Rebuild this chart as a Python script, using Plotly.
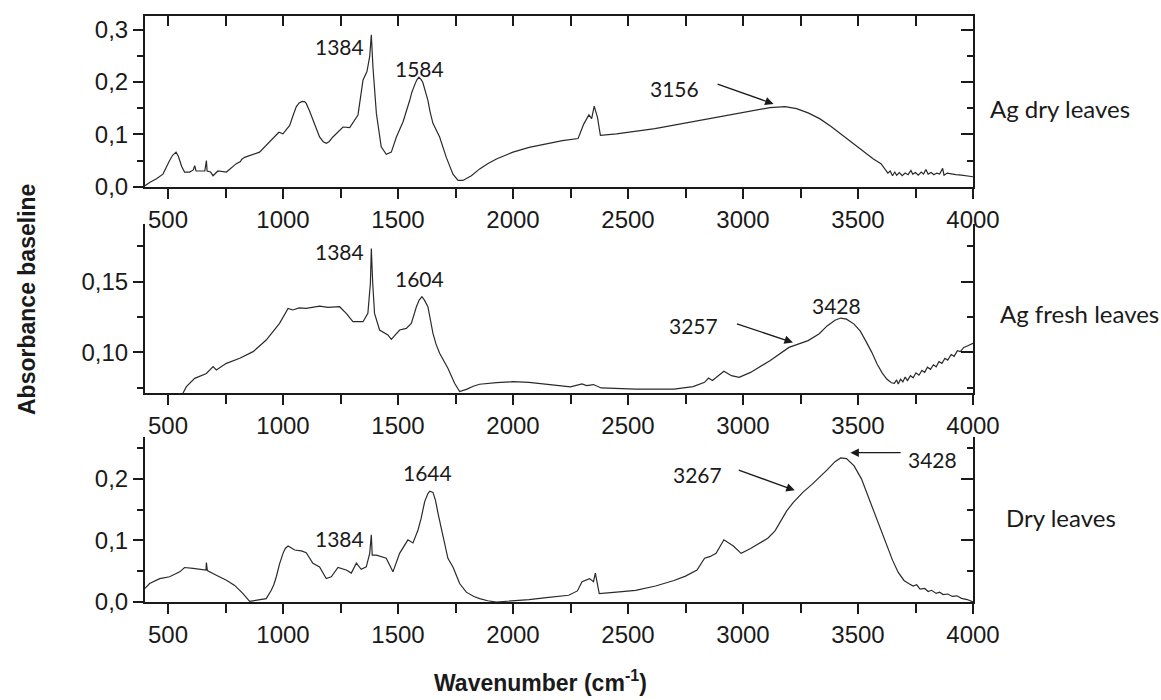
import plotly.graph_objects as go

# ---------------- data ----------------
wn_ag_dry = [400, 420, 450, 478, 507, 520, 535, 545, 551, 560, 572, 594, 610, 616, 622, 640, 660, 667, 670,
             685, 696, 717, 754, 797, 815, 820, 833, 898, 949, 982, 1000, 1029, 1043, 1058, 1070, 1084,
             1095, 1101, 1115, 1130, 1145, 1159, 1175, 1188, 1200, 1217, 1261, 1290, 1326, 1348, 1365,
             1377, 1384, 1391, 1406, 1427, 1449, 1471, 1493, 1522, 1551, 1560, 1572, 1582, 1591, 1600,
             1608, 1620, 1630, 1640, 1652, 1681, 1710, 1739, 1761, 1782, 1800, 1819, 1855, 1890, 1928,
             1965, 2000, 2070, 2145, 2215, 2283, 2308, 2330, 2342, 2353, 2367, 2380, 2450, 2617, 2783,
             2950, 3033, 3117, 3183, 3233, 3283, 3333, 3383, 3433, 3483, 3533, 3567, 3600, 3615, 3630,
             3640, 3650, 3660, 3668, 3680, 3692, 3705, 3718, 3730, 3738, 3750, 3762, 3775, 3785, 3795,
             3805, 3818, 3830, 3842, 3855, 3868, 3874, 3888, 3905, 3925, 3950, 3975, 4000]
abs_ag_dry = [0.002, 0.008, 0.015, 0.024, 0.05, 0.06, 0.066, 0.058, 0.05, 0.038, 0.028, 0.028, 0.032, 0.04,
              0.03, 0.03, 0.03, 0.05, 0.03, 0.028, 0.021, 0.03, 0.028, 0.044, 0.048, 0.052, 0.056, 0.066,
              0.088, 0.104, 0.101, 0.117, 0.135, 0.153, 0.16, 0.163, 0.162, 0.159, 0.145, 0.127, 0.108,
              0.095, 0.086, 0.083, 0.086, 0.095, 0.114, 0.113, 0.137, 0.204, 0.22, 0.249, 0.29, 0.229,
              0.14, 0.076, 0.062, 0.066, 0.095, 0.124, 0.165, 0.18, 0.194, 0.204, 0.209, 0.205, 0.199,
              0.182, 0.165, 0.142, 0.121, 0.095, 0.056, 0.024, 0.012, 0.012, 0.016, 0.021, 0.034, 0.044,
              0.053, 0.06, 0.066, 0.075, 0.082, 0.088, 0.092, 0.12, 0.137, 0.13, 0.154, 0.133, 0.098,
              0.101, 0.111, 0.124, 0.137, 0.143, 0.151, 0.153, 0.149, 0.141, 0.13, 0.115, 0.098, 0.081,
              0.063, 0.053, 0.044, 0.036, 0.026, 0.03, 0.021, 0.028, 0.022, 0.027, 0.021, 0.026, 0.023,
              0.031, 0.024, 0.027, 0.022, 0.028, 0.024, 0.033, 0.024, 0.027, 0.023, 0.026, 0.024, 0.035,
              0.022, 0.026, 0.024, 0.023, 0.022, 0.02, 0.019]

wn_ag_fresh = [565, 580, 616, 667, 696, 710, 754, 812, 870, 927, 985, 1022, 1043, 1070, 1101, 1130, 1159,
               1196, 1246, 1275, 1304, 1348, 1369, 1380, 1384, 1390, 1398, 1420, 1456, 1471, 1490, 1507,
               1536, 1558, 1580, 1592, 1604, 1615, 1630, 1640, 1652, 1665, 1681, 1717, 1746, 1768, 1797,
               1830, 1855, 1928, 2000, 2070, 2145, 2250, 2300, 2320, 2350, 2383, 2533, 2700, 2783, 2833,
               2850, 2867, 2917, 2950, 2983, 3033, 3117, 3200, 3283, 3330, 3367, 3400, 3425, 3450, 3483,
               3510, 3533, 3560, 3583, 3605, 3625, 3645, 3658, 3668, 3675, 3685, 3695, 3705, 3715, 3728,
               3740, 3752, 3765, 3778, 3790, 3802, 3815, 3828, 3840, 3852, 3865, 3878, 3890, 3905, 3918,
               3932, 3945, 3960, 3975, 3990, 4000]
abs_ag_fresh = [0.071, 0.0757, 0.0816, 0.085, 0.0899, 0.0875, 0.0922, 0.0958, 0.1005, 0.1087, 0.1205,
                0.1311, 0.130, 0.1315, 0.1311, 0.132, 0.1328, 0.1318, 0.1323, 0.1276, 0.1217, 0.1217,
                0.1276, 0.149, 0.1736, 0.149, 0.1276, 0.1158, 0.1123, 0.1092, 0.113, 0.1158, 0.117,
                0.1205, 0.1323, 0.137, 0.1394, 0.137, 0.1323, 0.124, 0.1134, 0.106, 0.0993, 0.0887,
                0.0781, 0.0722, 0.0738, 0.0762, 0.0774, 0.0785, 0.0792, 0.0788, 0.0776, 0.0755, 0.0776,
                0.0765, 0.0772, 0.0748, 0.074, 0.074, 0.0757, 0.0788, 0.0818, 0.08, 0.0866, 0.0835,
                0.0823, 0.0858, 0.0941, 0.1035, 0.1083, 0.113, 0.1189, 0.1228, 0.1243, 0.1235, 0.12,
                0.115, 0.1083, 0.1, 0.0917, 0.0855, 0.0811, 0.0785, 0.078, 0.0805, 0.0775, 0.081, 0.079,
                0.0825, 0.080, 0.0835, 0.082, 0.0855, 0.0838, 0.0872, 0.0858, 0.0895, 0.088, 0.0912,
                0.0898, 0.0935, 0.0922, 0.0958, 0.0945, 0.0985, 0.0972, 0.1012, 0.1005, 0.1035, 0.1045,
                0.1058, 0.1064]

wn_dry = [400, 420, 464, 507, 551, 572, 609, 652, 665, 667, 671, 710, 754, 790, 826, 855, 898, 927, 949,
          960, 971, 985, 1000, 1010, 1022, 1051, 1080, 1101, 1130, 1159, 1188, 1210, 1239, 1275, 1297,
          1319, 1340, 1362, 1377, 1384, 1388, 1406, 1449, 1478, 1507, 1543, 1565, 1587, 1600, 1616, 1630,
          1638, 1652, 1663, 1674, 1685, 1696, 1717, 1739, 1755, 1768, 1797, 1830, 1855, 1890, 1928, 2000,
          2070, 2145, 2242, 2280, 2300, 2333, 2350, 2358, 2375, 2450, 2533, 2620, 2700, 2750, 2800, 2833,
          2858, 2883, 2917, 2958, 2992, 3033, 3108, 3140, 3167, 3190, 3217, 3260, 3300, 3340, 3367, 3400,
          3425, 3450, 3483, 3515, 3550, 3575, 3600, 3625, 3650, 3675, 3700, 3720, 3740, 3755, 3770, 3790,
          3805, 3820, 3840, 3855, 3870, 3890, 3910, 3930, 3950, 3975, 4000]
abs_dry = [0.022, 0.030, 0.038, 0.041, 0.049, 0.056, 0.0545, 0.052, 0.052, 0.064, 0.051, 0.0436, 0.0354,
           0.027, 0.0136, 0.001, 0.003, 0.0054, 0.019, 0.028, 0.041, 0.062, 0.079, 0.087, 0.091, 0.0845,
           0.083, 0.080, 0.0627, 0.057, 0.038, 0.041, 0.056, 0.052, 0.047, 0.063, 0.053, 0.057, 0.079,
           0.109, 0.076, 0.076, 0.071, 0.049, 0.079, 0.101, 0.096, 0.117, 0.135, 0.163, 0.176, 0.18,
           0.178, 0.165, 0.144, 0.125, 0.106, 0.071, 0.057, 0.042, 0.030, 0.016, 0.009, 0.0054, 0.002,
           0.0, 0.0016, 0.004, 0.007, 0.011, 0.018, 0.033, 0.038, 0.033, 0.047, 0.0136, 0.016, 0.019,
           0.026, 0.035, 0.042, 0.052, 0.071, 0.074, 0.079, 0.101, 0.091, 0.079, 0.087, 0.1035, 0.116,
           0.1335, 0.148, 0.161, 0.178, 0.191, 0.205, 0.215, 0.228, 0.234, 0.233, 0.221, 0.2, 0.166,
           0.14, 0.117, 0.09, 0.068, 0.048, 0.035, 0.03, 0.026, 0.028, 0.021, 0.022, 0.017, 0.019,
           0.014, 0.016, 0.012, 0.013, 0.009, 0.01, 0.006, 0.004, 0.0]

panel_names = ["Ag dry leaves", "Ag fresh leaves", "Dry leaves"]
x_title = "Wavenumber (cm<sup>-1</sup>)"
y_title = "Absorbance baseline"

# peak labels: (text, wavenumber, absorbance)
peaks_top = [("1384", 1246, 0.268), ("1584", 1594, 0.226), ("3156", 2700, 0.188)]
peaks_mid = [("1384", 1246, 0.1712), ("1604", 1594, 0.1524), ("3428", 3408, 0.133), ("3257", 2783, 0.1189)]
peaks_bot = [("1384", 1246, 0.1035), ("1644", 1630, 0.21), ("3267", 2800, 0.207), ("3428", 3825, 0.2316)]
# arrows: (tail wn, tail abs, head wn, head abs)
arrows_top = [(2883, 0.197, 3133, 0.158)]
arrows_mid = [(2967, 0.1205, 3217, 0.107)]
arrows_bot = [(2975, 0.215, 3225, 0.1815), (3692, 0.2425, 3467, 0.2425)]

# ---------------- layout geometry ----------------
W, H = 1161, 700
L, R, T, B = 145, 188, 16, 98
PW, PH = W - L - R, H - T - B

def fy(py):  # pixel y -> paper fraction
    return (H - B - py) / PH

def fx(px):
    return (px - L) / PW

INK = "#1a1a1a"
tick_font = dict(family="Liberation Sans, Arial, sans-serif", size=24, color=INK)
lab_font = dict(family="Lato, Noto Sans, sans-serif", size=21, color=INK)
name_font = dict(family="Lato, Noto Sans, sans-serif", size=24, color=INK)
title_font = dict(family="Liberation Sans, Arial, sans-serif", size=23, color=INK)

fig = go.Figure()
line = dict(color="#2a2a2a", width=1.2)
fig.add_trace(go.Scatter(x=wn_dry, y=abs_dry, mode="lines", line=line, xaxis="x", yaxis="y",
                         showlegend=False, hoverinfo="skip"))
fig.add_trace(go.Scatter(x=wn_ag_fresh, y=abs_ag_fresh, mode="lines", line=line, xaxis="x2", yaxis="y2",
                         showlegend=False, hoverinfo="skip"))
fig.add_trace(go.Scatter(x=wn_ag_dry, y=abs_ag_dry, mode="lines", line=line, xaxis="x3", yaxis="y3",
                         showlegend=False, hoverinfo="skip"))
# empty traces to create overlay (mirror-like) axes
for xa, ya in [("x", "y4"), ("x2", "y5"), ("x3", "y6"), ("x4", "y3")]:
    fig.add_trace(go.Scatter(x=[None], y=[None], mode="lines", xaxis=xa, yaxis=ya,
                             showlegend=False, hoverinfo="skip"))

xcommon = dict(range=[400, 4000], tick0=500, dtick=500, ticks="outside", ticklen=10, tickwidth=2,
               tickcolor=INK, showline=True, linewidth=2, linecolor=INK, showgrid=False, zeroline=False,
               tickfont=tick_font, domain=[0, 1],
               minor=dict(dtick=250, tick0=500, ticks="outside", ticklen=9, tickwidth=2, tickcolor=INK,
                          showgrid=False))
ycommon = dict(ticks="outside", ticklen=10, tickwidth=2, tickcolor=INK, showline=True, linewidth=2,
               linecolor=INK, showgrid=False, zeroline=False, tickfont=tick_font)
yright = dict(ticks="inside", ticklen=12, tickwidth=2, tickcolor=INK, showline=True, linewidth=2,
              linecolor=INK, showgrid=False, zeroline=False, showticklabels=False, side="right")

dom_bot = [0, fy(437)]
dom_mid = [fy(393.3), fy(224)]
dom_top = [fy(186.7), 1]
r_bot = [0, 0.268]
r_mid = [0.071, 0.1909]
r_top = [0, 0.326]

fig.update_layout(
    width=W, height=H, template="none", separators=", ",
    paper_bgcolor="white", plot_bgcolor="white",
    margin=dict(l=L, r=R, t=T, b=B, autoexpand=False),
    xaxis=dict(**xcommon, anchor="y"),
    xaxis2=dict(**xcommon, anchor="y2"),
    xaxis3=dict(**xcommon, anchor="y3"),
    xaxis4=dict(range=[400, 4000], tick0=500, dtick=500, ticks="inside", ticklen=10, tickwidth=2,
                tickcolor=INK, showline=True, linewidth=2, linecolor=INK, showgrid=False, zeroline=False,
                showticklabels=False, side="top", overlaying="x3", anchor="y3",
                minor=dict(dtick=250, tick0=500, ticks="inside", ticklen=10, tickwidth=2, tickcolor=INK)),
    yaxis=dict(**ycommon, domain=dom_bot, range=r_bot, anchor="x", tick0=0, dtick=0.1, tickformat=".1f",
               minor=dict(dtick=0.05, tick0=0, ticks="outside", ticklen=6, tickwidth=2, tickcolor=INK)),
    yaxis2=dict(**ycommon, domain=dom_mid, range=r_mid, anchor="x2", tick0=0, dtick=0.05, tickformat=".2f",
                minor=dict(dtick=0.025, tick0=0, ticks="outside", ticklen=6, tickwidth=2, tickcolor=INK)),
    yaxis3=dict(**ycommon, domain=dom_top, range=r_top, anchor="x3", tick0=0, dtick=0.1, tickformat=".1f",
                minor=dict(dtick=0.05, tick0=0, ticks="outside", ticklen=6, tickwidth=2, tickcolor=INK)),
    yaxis4=dict(**yright, range=r_bot, overlaying="y", anchor="x", tick0=0, dtick=0.1,
                minor=dict(dtick=0.05, tick0=0, ticks="inside", ticklen=6, tickwidth=2, tickcolor=INK)),
    yaxis5=dict(**yright, range=r_mid, overlaying="y2", anchor="x2", tick0=0, dtick=0.05,
                minor=dict(dtick=0.025, tick0=0, ticks="inside", ticklen=6, tickwidth=2, tickcolor=INK)),
    yaxis6=dict(**yright, range=r_top, overlaying="y3", anchor="x3", tick0=0, dtick=0.1,
                minor=dict(dtick=0.05, tick0=0, ticks="inside", ticklen=6, tickwidth=2, tickcolor=INK)),
)

ann = []
for peaks, xr, yr in [(peaks_top, "x3", "y3"), (peaks_mid, "x2", "y2"), (peaks_bot, "x", "y")]:
    for txt, xv, yv in peaks:
        ann.append(dict(text=txt, x=xv, y=yv, xref=xr, yref=yr, showarrow=False, font=lab_font,
                        xanchor="center", yanchor="middle"))
for arrows, xr, yr in [(arrows_top, "x3", "y3"), (arrows_mid, "x2", "y2"), (arrows_bot, "x", "y")]:
    for x0, y0, x1, y1 in arrows:
        ann.append(dict(text="", x=x1, y=y1, ax=x0, ay=y0, xref=xr, yref=yr, axref=xr, ayref=yr,
                        showarrow=True, arrowhead=2, arrowsize=1.3, arrowwidth=1.3, arrowcolor=INK,
                        standoff=0, startstandoff=0))
for name, py, px in [(panel_names[0], 108, 988), (panel_names[1], 313, 998), (panel_names[2], 517, 1004)]:
    ann.append(dict(text=name, x=fx(px), y=fy(py), xref="paper", yref="paper", showarrow=False,
                    font=name_font, xanchor="left", yanchor="middle"))
ann.append(dict(text="<b>" + x_title + "</b>", x=fx(540), y=fy(681), xref="paper", yref="paper",
                showarrow=False, font=title_font, xanchor="center", yanchor="middle"))
ann.append(dict(text="<b>" + y_title + "</b>", x=fx(27), y=fy(300), xref="paper", yref="paper",
                showarrow=False, font=title_font, xanchor="center", yanchor="middle", textangle=-90))
fig.update_layout(annotations=ann)

fig.write_html("out.html", config={"displayModeBar": False},
               post_script="document.body.style.margin='0px';")
